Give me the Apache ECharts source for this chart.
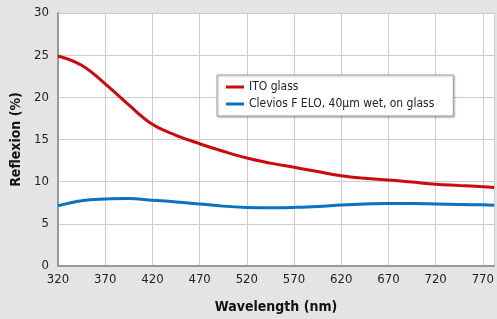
<!DOCTYPE html>
<html lang="en">
<head>
    <meta charset="UTF-8">
    <title>Reflexion</title>
    <style>
        * {
            margin: 0px;
            padding: 0px;
        }

        body {
            background-color: #e4e4e4;
        }

        #main {
            width: 497px;
            height: 319px;
        }
    </style>
</head>
<body>
<div id="main"></div>
<script src="https://cdn.jsdelivr.net/npm/echarts@6/dist/echarts.min.js"></script>
<script type="text/javascript">
    // wavelength (nm) and reflexion (%)
    var wavelength = [320, 345, 370, 395, 420, 445, 470, 495, 520, 545, 570, 595, 620, 645, 670, 695, 720, 745, 770, 782];
    var itoGlass = [24.9, 23.8, 21.6, 19.1, 16.8, 15.5, 14.5, 13.6, 12.8, 12.2, 11.7, 11.2, 10.7, 10.4, 10.2, 9.95, 9.7, 9.55, 9.4, 9.3];
    var clevios = [7.15, 7.75, 7.95, 8.0, 7.8, 7.6, 7.35, 7.1, 6.95, 6.9, 6.95, 7.05, 7.23, 7.35, 7.4, 7.4, 7.35, 7.3, 7.25, 7.2];
    var seriesNames = ['ITO glass', 'Clevios F ELO, 40µm wet, on glass'];
    var xTicks = [320, 370, 420, 470, 520, 570, 620, 670, 720, 770];

    var font = '"Liberation Sans Narrow", "DejaVu Sans Condensed", sans-serif';

    function pairs(ys) {
        return wavelength.map(function (x, i) {
            return [x, ys[i]];
        });
    }

    var myChart = echarts.init(document.getElementById('main'));
    myChart.setOption({
        backgroundColor: '#e4e4e4',
        animation: false,
        textStyle: {fontFamily: font},
        grid: {
            left: 58,
            right: 0,
            top: 13,
            bottom: 53,
            show: true,
            backgroundColor: '#ffffff',
            borderWidth: 0
        },
        legend: {
            data: seriesNames,
            orient: 'vertical',
            left: 217,
            top: 75,
            icon: 'rect',
            itemWidth: 18,
            itemHeight: 3,
            itemGap: 5,
            padding: [6, 19, 6, 9],
            backgroundColor: '#ffffff',
            borderColor: '#a0a0a0',
            borderWidth: 1,
            borderRadius: 0,
            shadowColor: 'rgba(0,0,0,0.3)',
            shadowBlur: 2,
            shadowOffsetX: 1,
            shadowOffsetY: 1,
            textStyle: {fontFamily: font, fontSize: 12, color: '#222222'}
        },
        xAxis: {
            type: 'value',
            min: 320,
            max: 782,
            interval: 50,
            name: 'Wavelength (nm)',
            nameLocation: 'middle',
            nameGap: 34,
            nameTextStyle: {fontFamily: font, fontSize: 14, fontWeight: 'bold', color: '#111111'},
            axisLine: {show: true, lineStyle: {color: '#999999', width: 2}},
            axisTick: {show: false},
            axisLabel: {
                fontSize: 13,
                color: '#222222',
                margin: 7,
                showMaxLabel: false,
                formatter: function (v) {
                    return xTicks.indexOf(v) >= 0 ? String(v) : '';
                }
            },
            splitLine: {show: true, lineStyle: {color: '#cccccc', width: 1}}
        },
        yAxis: {
            type: 'value',
            min: 0,
            max: 30,
            interval: 5,
            name: 'Reflexion (%)',
            nameLocation: 'middle',
            nameGap: 34,
            nameTextStyle: {fontFamily: font, fontSize: 14, fontWeight: 'bold', color: '#111111'},
            axisLine: {show: true, lineStyle: {color: '#999999', width: 2}},
            axisTick: {show: false},
            axisLabel: {fontSize: 13, color: '#222222', margin: 9},
            splitLine: {show: true, lineStyle: {color: '#cccccc', width: 1}}
        },
        series: [
            {
                name: seriesNames[0],
                type: 'line',
                data: pairs(itoGlass),
                smooth: 0.4,
                showSymbol: false,
                itemStyle: {color: '#cc0a0a'},
                lineStyle: {color: '#cc0a0a', width: 3}
            },
            {
                name: seriesNames[1],
                type: 'line',
                data: pairs(clevios),
                smooth: 0.4,
                showSymbol: false,
                itemStyle: {color: '#0a72c0'},
                lineStyle: {color: '#0a72c0', width: 3}
            }
        ]
    });
</script>
</body>
</html>
